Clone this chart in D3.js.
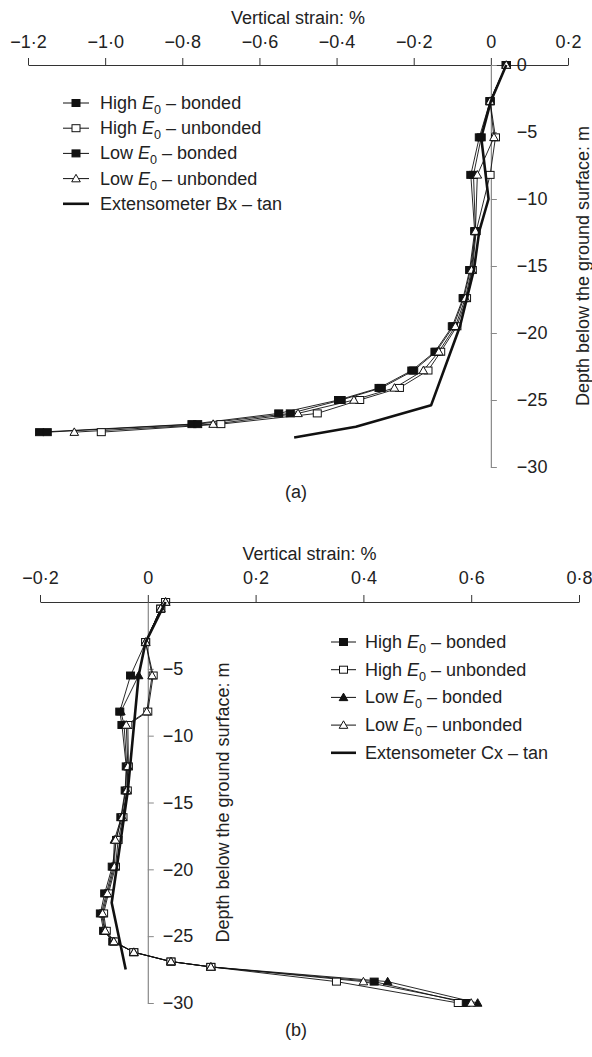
<!DOCTYPE html>
<html><head><meta charset="utf-8">
<script src="https://cdn.jsdelivr.net/npm/d3@7"></script>
<style>
html,body{margin:0;padding:0;background:#fff;}
svg{display:block;font-family:"Liberation Sans",Arial,sans-serif;}
</style></head>
<body>
<svg id="c" width="592" height="1057"></svg>
<script>
// ---------- DATA: chart (a) ----------
const depthA = [0, -2.7, -5.4, -8.2, -12.4, -15.3, -17.4, -19.5, -21.4, -22.8, -24.1, -25.0, -26.0, -26.8, -27.4];
const highBondedA   = [0.04, -0.002, -0.030, -0.052, -0.042, -0.055, -0.072, -0.100, -0.145, -0.205, -0.290, -0.395, -0.550, -0.775, -1.170];
const highUnbondedA = [0.04, -0.002,  0.012, -0.002, -0.038, -0.048, -0.063, -0.088, -0.130, -0.163, -0.237, -0.340, -0.450, -0.700, -1.010];
const lowBondedA    = [0.04, -0.002, -0.025, -0.045, -0.040, -0.053, -0.070, -0.097, -0.142, -0.200, -0.284, -0.388, -0.520, -0.760, -1.150];
const lowUnbondedA  = [0.04, -0.002,  0.008, -0.035, -0.040, -0.050, -0.066, -0.092, -0.135, -0.175, -0.250, -0.355, -0.500, -0.720, -1.080];
const extDepthA  = [0, -2.7, -5.4, -10.0, -12.4, -15.3, -19.5, -25.4, -27.0, -27.8];
const extStrainA = [0.04, 0.0, -0.025, -0.006, -0.030, -0.044, -0.080, -0.155, -0.350, -0.510];
const xTicksA = [-1.2, -1.0, -0.8, -0.6, -0.4, -0.2, 0, 0.2];
const yTicksA = [0, -5, -10, -15, -20, -25, -30];

// ---------- DATA: chart (b) ----------
const depthB = [0, -0.5, -3.0, -5.5, -8.2, -9.2, -12.3, -14.1, -16.1, -17.8, -19.8, -21.8, -23.3, -24.6, -25.4, -26.2, -26.9, -27.3, -28.4, -30.0];
const highBondedB   = [0.033, 0.024, -0.004, -0.032, -0.052, -0.048, -0.040, -0.042, -0.050, -0.058, -0.066, -0.080, -0.088, -0.082, -0.065, -0.026, 0.043, 0.117, 0.420, 0.590];
const highUnbondedB = [0.033, 0.024, -0.004,  0.010,  0.000, -0.037, -0.036, -0.038, -0.046, -0.055, -0.060, -0.073, -0.082, -0.077, -0.062, -0.026, 0.043, 0.117, 0.350, 0.576];
const lowBondedB    = [0.033, 0.024, -0.004, -0.017, -0.050, -0.044, -0.039, -0.041, -0.049, -0.062, -0.064, -0.077, -0.086, -0.080, -0.064, -0.026, 0.043, 0.117, 0.445, 0.612];
const lowUnbondedB  = [0.033, 0.024, -0.004,  0.008, -0.002, -0.040, -0.037, -0.039, -0.047, -0.060, -0.062, -0.075, -0.084, -0.079, -0.063, -0.026, 0.043, 0.117, 0.400, 0.600];
const extDepthB  = [0, -3.0, -5.5, -14.1, -22.5, -27.5];
const extStrainB = [0.033, -0.004, -0.017, -0.037, -0.067, -0.041];
const xTicksB = [-0.2, 0, 0.2, 0.4, 0.6, 0.8];
const yTicksB = [-5, -10, -15, -20, -25, -30];

const legendNamesA = ["High|bonded", "High|unbonded", "Low|bonded", "Low|unbonded", "Extensometer Bx – tan"];
const legendNamesB = ["High|bonded", "High|unbonded", "Low|bonded", "Low|unbonded", "Extensometer Cx – tan"];

// ---------- DRAWING ----------
const svg = d3.select("#c");
const FS = 18;
const fmtX = d => d === 0 ? "0" : (d < 0 ? "\u2212" : "") + Math.abs(d).toFixed(1).replace(".", "\u00B7");
const fmtY = d => d === 0 ? "0" : "\u2212" + Math.abs(d);

function marker(g, type, x, y) {
  if (type === "fs" || type === "os") {
    g.append("rect").attr("x", x - 4).attr("y", y - 3.5).attr("width", 8).attr("height", 7)
      .attr("fill", type === "fs" ? "#111" : "#fff").attr("stroke", "#111").attr("stroke-width", 1);
  } else {
    const s = 4.3;
    g.append("path").attr("d", `M${x},${y - s}L${x + s},${y + s * 0.75}L${x - s},${y + s * 0.75}Z`)
      .attr("fill", type === "ft" ? "#111" : "#fff").attr("stroke", "#111").attr("stroke-width", 1);
  }
}

function chart(o) {
  const x = d3.scaleLinear().domain(o.xDom).range(o.xRange);
  const y = d3.scaleLinear().domain([0, -30]).range(o.yRange);
  const g = svg.append("g");

  // x axis (top)
  const xa = g.append("g").attr("transform", `translate(0,${o.yRange[0]})`)
    .call(d3.axisTop(x).tickValues(o.xTicks).tickFormat(fmtX).tickSize(7).tickSizeOuter(0));
  xa.select(".domain").attr("stroke", "#333").attr("stroke-width", 1.2);
  xa.selectAll(".tick line").attr("stroke", "#333");
  xa.selectAll(".tick text").attr("font-size", FS).attr("font-family", "Liberation Sans, Arial, sans-serif")
    .attr("fill", "#222").attr("dy", 0).attr("y", -(o.yRange[0] - o.xLabelY));
  g.append("text").attr("x", (o.xRange[0] + o.xRange[1]) / 2).attr("y", o.xTitleY)
    .attr("text-anchor", "middle").attr("font-size", FS).attr("fill", "#222").text("Vertical strain: %");

  // y axis at zero
  const x0 = x(0);
  const ya = g.append("g").attr("transform", `translate(${x0},0)`)
    .call(d3.axisRight(y).tickValues(o.yTicks).tickFormat(fmtY).tickSize(6).tickSizeOuter(0));
  ya.select(".domain").attr("stroke", "#888").attr("stroke-width", 1.2);
  ya.selectAll(".tick line").attr("stroke", "#888");
  ya.selectAll(".tick text").attr("font-size", FS).attr("font-family", "Liberation Sans, Arial, sans-serif")
    .attr("fill", "#222").attr("x", o.yLabelDx);
  g.append("text").attr("transform", `translate(${o.yTitleX},${(o.yRange[0] + o.yRange[1]) / 2}) rotate(-90)`)
    .attr("text-anchor", "middle").attr("font-size", FS).attr("fill", "#222")
    .text("Depth below the ground surface: m");

  // series
  const line = d3.line().x(d => x(d[1])).y(d => y(d[0]));
  o.series.forEach(s => {
    const pts = o.depth.map((d, i) => [d, s.v[i]]);
    g.append("path").attr("d", line(pts)).attr("fill", "none").attr("stroke", "#111").attr("stroke-width", 0.9);
  });
  o.series.forEach(s => {
    o.depth.forEach((d, i) => marker(g, s.m, x(s.v[i]), y(d)));
  });
  const ext = o.extDepth.map((d, i) => [d, o.extStrain[i]]);
  g.append("path").attr("d", line(ext)).attr("fill", "none").attr("stroke", "#111").attr("stroke-width", 2.6)
    .attr("stroke-linejoin", "round");

  // legend
  const types = o.series.map(s => s.m);
  o.legend.forEach((name, i) => {
    const ly = o.legY + i * o.legStep;
    if (i < 4) {
      g.append("line").attr("x1", o.legX).attr("x2", o.legX + o.legW).attr("y1", ly).attr("y2", ly)
        .attr("stroke", "#111").attr("stroke-width", 1);
      marker(g, types[i], o.legX + o.legW / 2, ly);
      const [a, b] = name.split("|");
      const t = g.append("text").attr("x", o.legTextX).attr("y", ly + 6).attr("font-size", FS).attr("fill", "#222");
      t.append("tspan").text(a + " ");
      t.append("tspan").attr("font-style", "italic").text("E");
      t.append("tspan").attr("font-size", FS * 0.7).attr("dy", 5).text("0");
      t.append("tspan").attr("dy", -5).text(" – " + b);
    } else {
      g.append("line").attr("x1", o.legX).attr("x2", o.legX + o.legW).attr("y1", ly).attr("y2", ly)
        .attr("stroke", "#111").attr("stroke-width", 2.6);
      g.append("text").attr("x", o.legTextX).attr("y", ly + 6).attr("font-size", FS).attr("fill", "#222").text(name);
    }
  });

  svg.append("text").attr("x", 296).attr("y", o.capY).attr("text-anchor", "middle")
    .attr("font-size", FS).attr("fill", "#222").text(o.cap);
}

chart({
  xDom: [-1.2, 0.2], xRange: [28, 568], yRange: [65, 467],
  xTicks: xTicksA, yTicks: yTicksA,
  xLabelY: 48, xTitleY: 24, yLabelDx: 26, yTitleX: 589,
  depth: depthA,
  series: [
    { v: highBondedA, m: "fs" }, { v: highUnbondedA, m: "os" },
    { v: lowBondedA, m: "fs" }, { v: lowUnbondedA, m: "ot" }
  ],
  extDepth: extDepthA, extStrain: extStrainA,
  legend: legendNamesA, legX: 63, legW: 26, legTextX: 100, legY: 103, legStep: 25.2,
  capY: 498, cap: "(a)"
});

chart({
  xDom: [-0.2, 0.8], xRange: [40, 579], yRange: [602, 1003],
  xTicks: xTicksB, yTicks: yTicksB,
  xLabelY: 584, xTitleY: 560, yLabelDx: 15, yTitleX: 229,
  depth: depthB,
  series: [
    { v: highBondedB, m: "fs" }, { v: highUnbondedB, m: "os" },
    { v: lowBondedB, m: "ft" }, { v: lowUnbondedB, m: "ot" }
  ],
  extDepth: extDepthB, extStrain: extStrainB,
  legend: legendNamesB, legX: 331, legW: 25, legTextX: 365, legY: 642, legStep: 27.7,
  capY: 1036, cap: "(b)"
});
</script>
</body></html>
